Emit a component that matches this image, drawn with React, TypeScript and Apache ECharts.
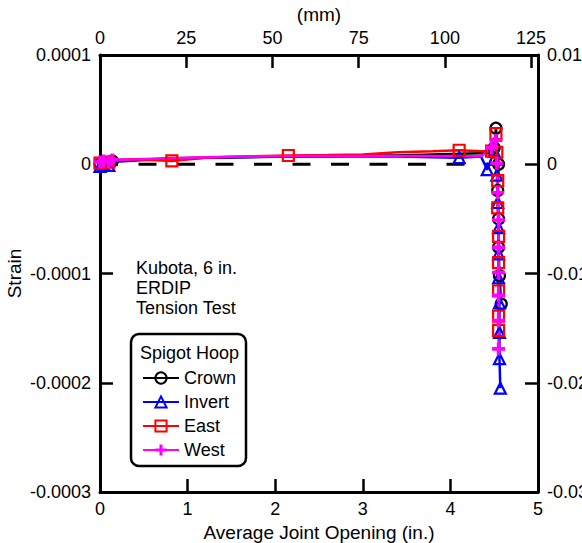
import React, { useEffect, useRef } from "react";
import * as echarts from "echarts";

// Strain values are given in microstrain (x 1e-6)
const crownX = [0, 0.04, 0.1, 0.14, 0.4, 0.82, 1.2, 1.6, 2.15, 2.6, 3.0, 3.4, 3.8, 4.1, 4.35, 4.47, 4.5, 4.52, 4.55, 4.54, 4.55, 4.55, 4.56, 4.58];
const crownY = [0, 2, 1, 3, 4, 5.5, 6, 6.5, 7, 7.5, 8, 8, 9, 9.5, 10, 10, 15, 33, 0, -24, -50, -76, -102, -128];
const crownMarks = [0, 1, 3, 16, 17, 18, 19, 20, 21, 22, 23];

const invertX = [0, 0.04, 0.1, 0.14, 0.4, 0.82, 1.2, 1.6, 2.15, 2.6, 3.0, 3.4, 3.8, 4.1, 4.35, 4.42, 4.5, 4.53, 4.54, 4.55, 4.55, 4.55, 4.56, 4.56, 4.56, 4.57];
const invertY = [-2, 0, -1, 2, 3.5, 5, 6, 6.5, 7, 7, 7, 7, 6.5, 6, 7, -5, 12, -10, -35, -58, -82, -104, -127, -154, -178, -205];
const invertMarks = [0, 1, 2, 13, 15, 16, 17, 18, 19, 20, 21, 22, 23, 24, 25];

const eastX = [0, 0.04, 0.1, 0.14, 0.4, 0.82, 1.2, 1.6, 2.15, 2.6, 3.0, 3.4, 3.8, 4.1, 4.35, 4.47, 4.52, 4.53, 4.54, 4.54, 4.55, 4.55, 4.55, 4.55, 4.55];
const eastY = [1, 3, 2, 4, 4.5, 3, 6, 7, 8, 8.5, 9, 11, 12, 12.8, 12, 12, 28, 11, -15, -40, -66, -90, -116, -139, -152];
const eastMarks = [0, 2, 5, 8, 13, 15, 16, 17, 18, 19, 20, 21, 22, 23, 24];

const westX = [0, 0.04, 0.1, 0.14, 0.4, 0.82, 1.2, 1.6, 2.15, 2.6, 3.0, 3.4, 3.8, 4.1, 4.35, 4.47, 4.52, 4.53, 4.54, 4.55, 4.55, 4.55, 4.55, 4.55, 4.55];
const westY = [2, 3, 2, 4, 4.5, 5.5, 6.5, 7, 7.5, 7.5, 7.5, 7.5, 7.5, 7.5, 7, 15, 22, 1, -26, -51, -76, -99, -120, -143, -169];
const westMarks = [0, 1, 2, 3, 15, 16, 17, 18, 19, 20, 21, 22, 23, 24];

const zeroX = [0, 4.62];
const zeroY = [0, 0];

const seriesNames = ["Crown", "Invert", "East", "West"];
const bottomTicks = { min: 0, max: 5, interval: 1 };
const topTicks = { min: 0, max: 127, interval: 25 };
const leftTicks = { min: -300, max: 100, interval: 100 };
const rightTicks = { min: -3, max: 1, interval: 1 };

const FONT = "'Liberation Sans', Arial, sans-serif";
const FS = 18;
const NFS = 19;

function build(xs: number[], ys: number[], marks: number[]) {
  return xs.map((x, i) =>
    marks.includes(i) ? { value: [x, ys[i]] } : { value: [x, ys[i]], symbol: "none" }
  );
}

const axisLine = { show: true, onZero: false, lineStyle: { color: "#000", width: 3 } };
const axisTick = { show: true, inside: true, length: 13, lineStyle: { color: "#000", width: 2.5 } };
const label = { color: "#000", fontSize: FS, fontFamily: FONT };
const nameStyle = { color: "#000", fontSize: NFS, fontFamily: FONT };

export default function App() {
  const ref = useRef<HTMLDivElement>(null);
  useEffect(() => {
    if (!ref.current) return;
    const chart = echarts.init(ref.current, null, { renderer: "svg" });
    const lineSeries = (
      name: string,
      color: string,
      xs: number[],
      ys: number[],
      marks: number[],
      symbol: string,
      size: number,
      filled: boolean
    ) => ({
      name,
      type: "line",
      xAxisIndex: 0,
      yAxisIndex: 0,
      data: build(xs, ys, marks),
      showSymbol: true,
      showAllSymbol: true,
      symbol,
      symbolSize: size,
      lineStyle: { color, width: 2.5 },
      itemStyle: filled
        ? { color, borderWidth: 0 }
        : { color: "rgba(0,0,0,0)", borderColor: color, borderWidth: 2.2 },
      z: 3,
    });
    chart.setOption({
      animation: false,
      backgroundColor: "#fff",
      textStyle: { fontFamily: FONT },
      grid: {
        left: 100,
        right: 44,
        top: 55,
        bottom: 51,
        containLabel: false,
        outerBoundsMode: "none",
      },
      xAxis: [
        {
          type: "value",
          position: "bottom",
          ...bottomTicks,
          axisLine,
          axisTick,
          splitLine: { show: false },
          axisLabel: { ...label, margin: 8 },
          name: "Average Joint Opening (in.)",
          nameLocation: "middle",
          nameGap: 31,
          nameMoveOverlap: false,
          nameTextStyle: nameStyle,
        },
        {
          type: "value",
          position: "top",
          ...topTicks,
          axisLine,
          axisTick,
          splitLine: { show: false },
          axisLabel: { ...label, margin: 8, showMaxLabel: false },
          name: "(mm)",
          nameLocation: "middle",
          nameGap: 31,
          nameMoveOverlap: false,
          nameTextStyle: nameStyle,
        },
      ],
      yAxis: [
        {
          type: "value",
          position: "left",
          ...leftTicks,
          axisLine,
          axisTick,
          splitLine: { show: false },
          axisLabel: {
            ...label,
            margin: 9,
            formatter: (v: number) => (v === 0 ? "0" : (v / 1e6).toFixed(4)),
          },
          name: "Strain",
          nameLocation: "middle",
          nameGap: 76,
          nameMoveOverlap: false,
          nameTextStyle: nameStyle,
        },
        {
          type: "value",
          position: "right",
          ...rightTicks,
          axisLine,
          axisTick,
          splitLine: { show: false },
          axisLabel: {
            ...label,
            margin: 9,
            formatter: (v: number) => (v === 0 ? "0" : (v / 100).toFixed(2)),
          },
        },
      ],
      legend: {
        data: seriesNames,
        orient: "vertical",
        left: 137,
        top: 364,
        itemWidth: 36,
        itemHeight: 14,
        itemGap: 6,
        textStyle: { color: "#000", fontSize: FS, fontFamily: FONT },
      },
      graphic: [
        {
          type: "rect",
          shape: { x: 131, y: 334, width: 115, height: 132, r: 8 },
          style: { fill: "none", stroke: "#000", lineWidth: 2.5 },
          z: 10,
        },
        {
          type: "text",
          x: 140,
          y: 353,
          style: {
            text: "Spigot Hoop",
            fill: "#000",
            font: `${FS}px ${FONT}`,
            textVerticalAlign: "middle",
          },
          z: 10,
        },
        {
          type: "text",
          x: 136,
          y: 258,
          style: {
            text: "Kubota, 6 in.\nERDIP\nTension Test",
            fill: "#000",
            font: `${FS}px ${FONT}`,
            lineHeight: 20,
          },
          z: 10,
        },
      ],
      series: [
        {
          name: "zero",
          type: "line",
          data: zeroX.map((x, i) => [x, zeroY[i]]),
          symbol: "none",
          lineStyle: { color: "#000", width: 3, type: [18, 20.5] },
          z: 2,
          silent: true,
        },
        lineSeries("Crown", "#000000", crownX, crownY, crownMarks, "circle", 11, false),
        lineSeries("Invert", "#0000ff", invertX, invertY, invertMarks, "triangle", 11, false),
        lineSeries("East", "#ff0000", eastX, eastY, eastMarks, "rect", 11, false),
        lineSeries(
          "West",
          "#ff00ff",
          westX,
          westY,
          westMarks,
          "path://M4,0H7V4H11V7H7V11H4V7H0V4H4Z",
          13,
          true
        ),
      ],
    });
    return () => chart.dispose();
  }, []);
  return (
    <div
      ref={ref}
      style={{ position: "fixed", left: 0, top: 0, width: 582, height: 543, background: "#fff" }}
    />
  );
}
